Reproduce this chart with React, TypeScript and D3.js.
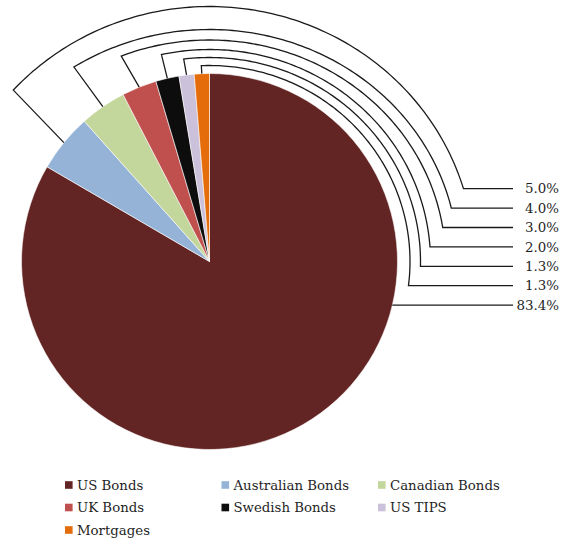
import React from "react";
import * as d3 from "d3";

const categories = ["US Bonds", "Australian Bonds", "Canadian Bonds", "UK Bonds", "Swedish Bonds", "US TIPS", "Mortgages"];
const values = [83.4, 5.0, 4.0, 3.0, 2.0, 1.3, 1.3];
const colors = ["#632523", "#95B3D7", "#C3D69B", "#C0504D", "#0D0D0D", "#CCC1DA", "#E46C0A"];
// label order top-to-bottom on the right side (index into categories)
const labelOrder = [1, 2, 3, 4, 5, 6, 0];

const W = 561, H = 540;
const cx = 209.5, cy = 261.5, R = 188;
// leader ellipse radii per slice (index into categories; US Bonds unused)
const leaderRx = [0, 265, 248.5, 236, 221, 211, 200.5];
const leaderRy = [0, 255, 232, 221.5, 212, 204, 196];
const cornerShiftDeg = [0, 3, 1.5, 0, 0.4, 0, 0];
const labelTop = 188.7, labelStep = 19.4;
const lineEndX = 513, textX = 559;
const font = "'DejaVu Serif', serif";

export default function App() {
  const pie = d3.pie<number>().sort(null).value((d) => d).startAngle(0).endAngle(2 * Math.PI);
  const arcs = pie(values);
  const arcGen = d3.arc<d3.PieArcDatum<number>>().innerRadius(0).outerRadius(R);

  const labelY = (i: number) => labelTop + labelOrder.indexOf(i) * labelStep;

  const leaders = arcs.map((a, i) => {
    const ly = labelY(i);
    if (i === 0) {
      const dx = Math.sqrt(R * R - (ly - cy) * (ly - cy));
      return `M${cx + dx},${ly}L${lineEndX},${ly}`;
    }
    const mid = (a.startAngle + a.endAngle) / 2;
    const corner = mid + (cornerShiftDeg[i] * Math.PI) / 180;
    const rx = leaderRx[i], ry = leaderRy[i];
    const pts: [number, number][] = [];
    pts.push([cx + R * Math.sin(mid), cy - R * Math.cos(mid)]);
    const thEnd = 2 * Math.PI + Math.acos((cy - ly) / ry);
    const n = 120;
    for (let k = 0; k <= n; k++) {
      const t = corner + ((thEnd - corner) * k) / n;
      pts.push([cx + rx * Math.sin(t), cy - ry * Math.cos(t)]);
    }
    pts.push([lineEndX, ly]);
    return d3.line()(pts) as string;
  });

  const legCols = [65, 221.5, 378];
  const legRows = [485, 507.5, 530];

  return (
    <svg width={W} height={H} style={{ position: "absolute", left: 0, top: 0, background: "#fff" }} fontFamily={font}>
      <g transform={`translate(${cx},${cy})`}>
        {arcs.map((a, i) => (
          <path key={i} d={arcGen(a) as string} fill={colors[i]} stroke="#fff" strokeWidth={0.6} />
        ))}
      </g>
      {leaders.map((d, i) => (
        <path key={i} d={d} fill="none" stroke="#1a1a1a" strokeWidth={1.3} strokeLinejoin="miter" />
      ))}
      {arcs.map((a, i) => (
        <text key={i} x={textX} y={labelY(i)} dy="0.35em" textAnchor="end" fontSize={13.4} fill="#1f1f1f">
          {d3.format(".1f")(values[i])}%
        </text>
      ))}
      {categories.map((c, i) => {
        const col = i % 3, row = Math.floor(i / 3);
        const x = legCols[col], y = legRows[row];
        return (
          <g key={c}>
            <rect x={x} y={y - 3.8} width={7.6} height={7.6} fill={colors[i]} />
            <text x={x + 12} y={y} dy="0.35em" fontSize={13.3} fill="#1f1f1f">{c}</text>
          </g>
        );
      })}
    </svg>
  );
}
